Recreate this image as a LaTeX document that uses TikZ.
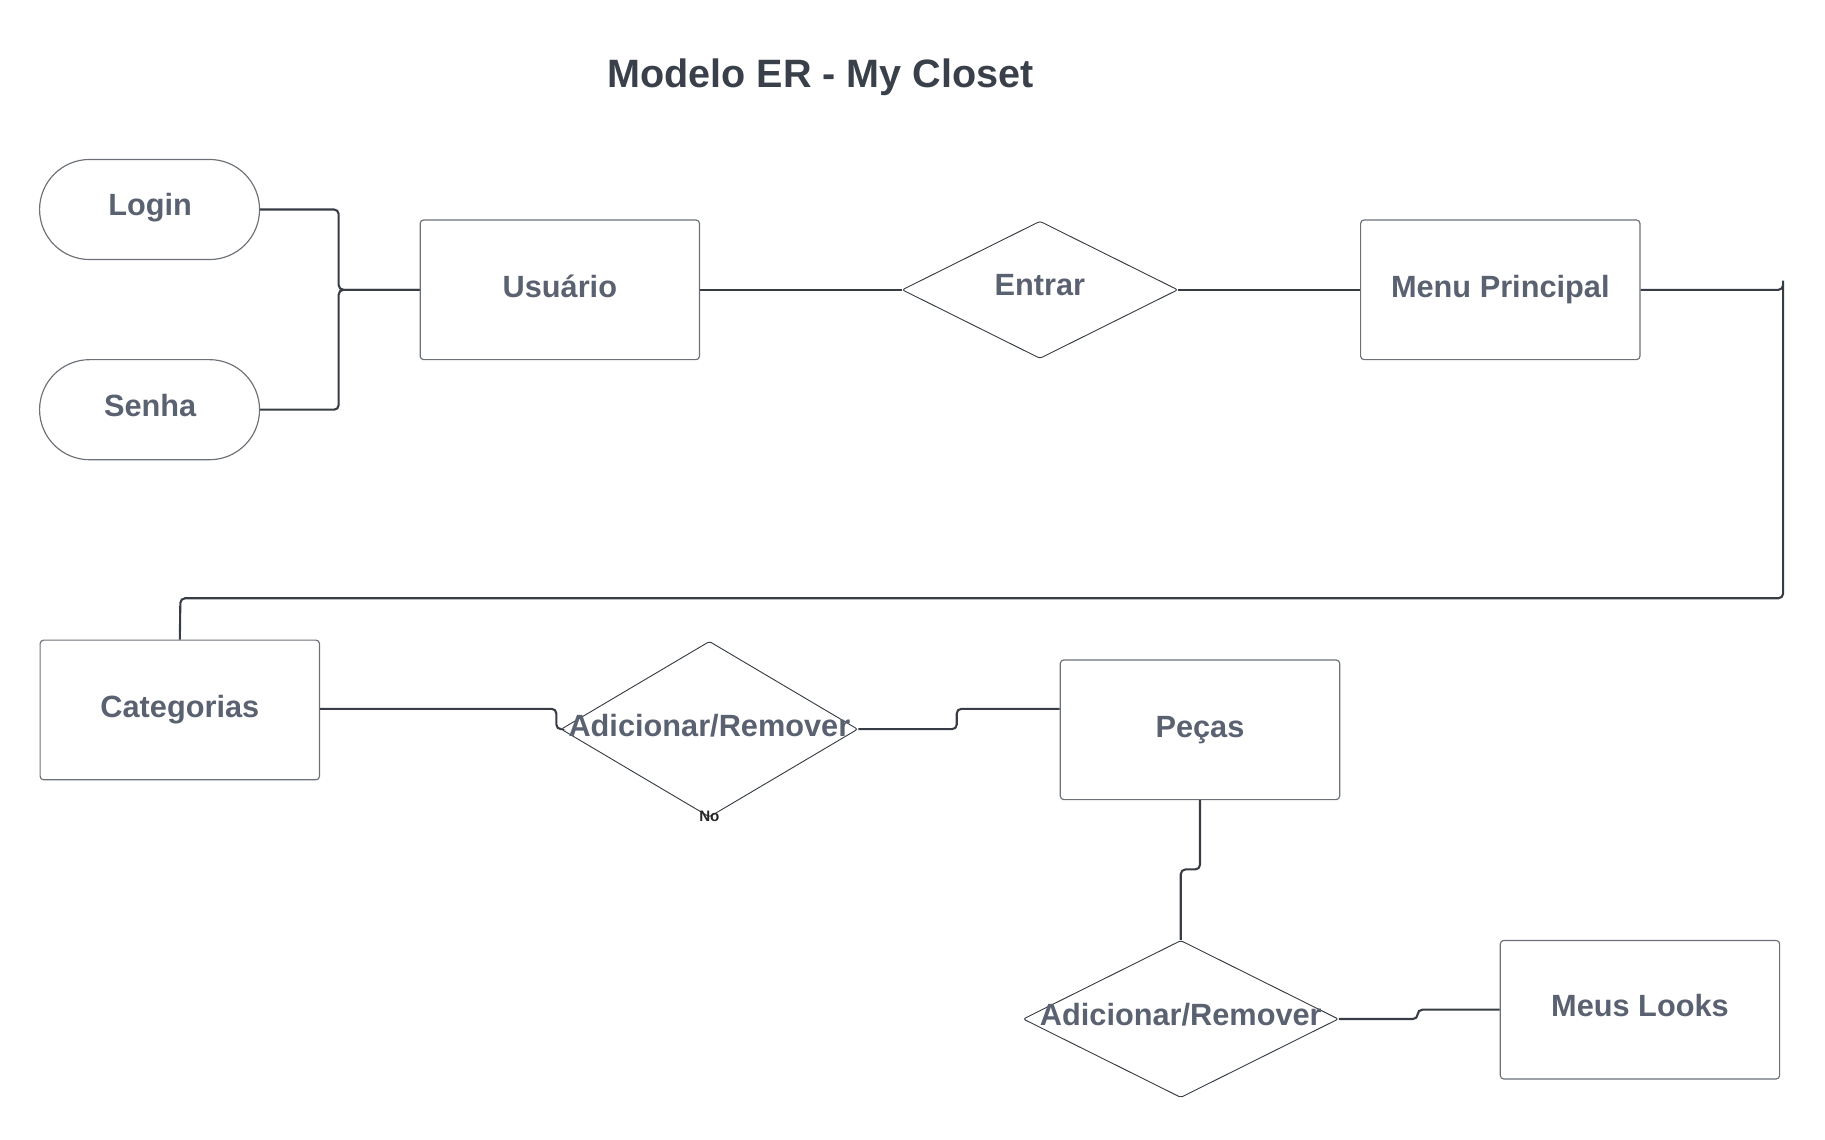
\documentclass[tikz,border=0pt]{standalone}
\usepackage{fontspec}
\setmainfont{Liberation Sans}
\usetikzlibrary{shapes.geometric}
\definecolor{txtgray}{HTML}{5A6170}
\definecolor{titlegray}{HTML}{3A4049}
\definecolor{linedark}{HTML}{383D45}
\definecolor{boxline}{HTML}{6C7077}
\begin{document}
\begin{tikzpicture}[x=1pt,y=-1pt,
  entbox/.style={draw=boxline, line width=1pt, rectangle, rounded corners=3pt,
    minimum width=240pt, minimum height=120pt, inner sep=0pt},
  attrbox/.style={draw=boxline, line width=1pt, rectangle, rounded corners=43pt,
    minimum width=189pt, minimum height=86pt, inner sep=0pt},
  relbox/.style={draw=linedark, line width=0.8pt, diamond, rounded corners=2pt, inner sep=0pt},
  lbl/.style={font=\fontsize{26.4}{30}\selectfont\bfseries, text=txtgray, inner sep=0pt, anchor=base},
  conn/.style={draw=linedark, line width=1.8pt, rounded corners=4pt}
]
\useasboundingbox (0,0) rectangle (1568,979);

\node[font=\fontsize{34}{40}\selectfont\bfseries, text=titlegray, anchor=base] (title) at (705,75) {Modelo ER - My Closet};

% attributes
\node[attrbox] (login) at (128.5,180) {};
\node[lbl] (logint) at (129,185.5) {Login};
\node[attrbox] (senha) at (128.5,352) {};
\node[lbl] (senhat) at (129,357.5) {Senha};

% entities
\node[entbox] (usuario) at (481,249) {};
\node[lbl] (usuariot) at (481,255.5) {Usuário};
\node[entbox] (menu) at (1289,249) {};
\node[lbl] (menut) at (1289,255.5) {Menu Principal};
\node[entbox] (cat) at (154.5,610) {};
\node[lbl] (catt) at (154.5,616.5) {Categorias};
\node[entbox] (pecas) at (1031,627) {};
\node[lbl] (pecast) at (1031,633.5) {Peças};
\node[entbox, minimum height=119pt] (looks) at (1409,867.5) {};
\node[lbl] (lookst) at (1409,873.5) {Meus Looks};

% relationships
\node[relbox, minimum width=237pt, minimum height=118pt] (entrar) at (893.5,249) {};
\node[lbl] (entrart) at (893.5,253.5) {Entrar};
\node[relbox, minimum width=255pt, minimum height=151pt] (rel1) at (609.5,626.5) {};
\node[lbl] (rel1t) at (609.5,632.5) {Adicionar/Remover};
\node[relbox, minimum width=271pt, minimum height=135pt] (rel2) at (1014.5,875.5) {};
\node[lbl] (rel2t) at (1014.5,881.5) {Adicionar/Remover};
\node[font=\fontsize{13}{15}\selectfont\bfseries, text=black!85, inner sep=0pt] (no) at (609.5,701) {No};

% connectors
\coordinate (mtop) at (1532,241);
\path[conn] (login.east) -- (291,180) -- (291,249) -- (usuario.west);
\path[conn] (senha.east) -- (291,352) -- (291,249) -- (usuario.west);
\path[conn] (usuario.east) -- (entrar.west);
\path[conn] (entrar.east) -- (menu.west);
\path[conn] (menu.east) -- (1532,249) -- (1532,245);
\path[conn] (mtop) -- (1532,514) -- (155,514) -- (cat.north);
\path[conn] (275,609) -- (478,609) -- (478,626.5) -- (rel1.west);
\path[conn] (rel1.east) -- (822,626.5) -- (822,609) -- ([yshift=18pt]pecas.west);
\path[conn] (pecas.south) -- (1031,747) -- (1014.5,747) -- (rel2.north);
\path[conn] (rel2.east) -- (1218,875.5) -- (1218,867.5) -- (looks.west);
\end{tikzpicture}
\end{document}
